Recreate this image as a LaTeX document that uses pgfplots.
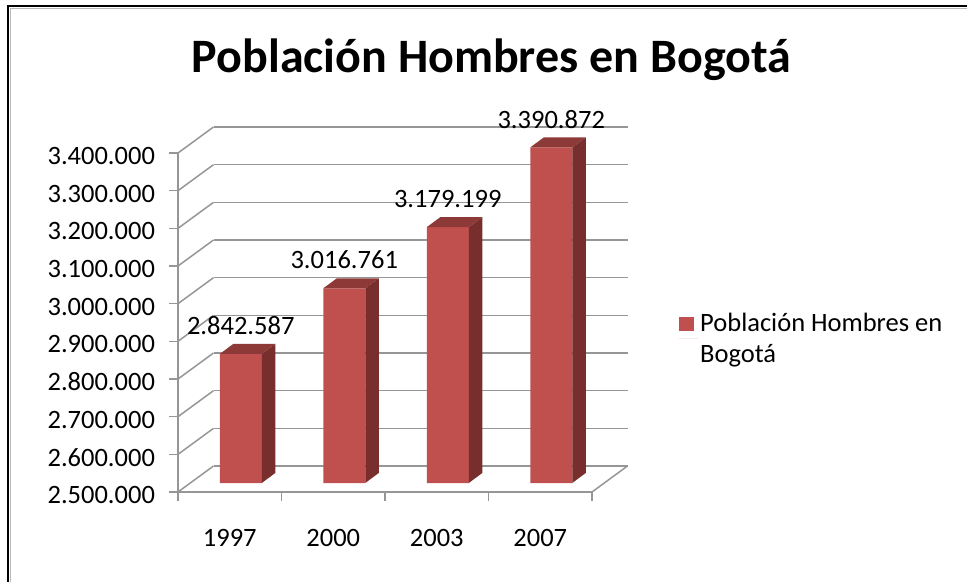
\documentclass[border=0pt]{standalone}
\usepackage{pgfplots}
\pgfplotsset{compat=1.18}
\usepackage{pgfplotstable}
\usepackage{fontspec}
\setmainfont{Carlito}
\definecolor{barfront}{RGB}{192,80,77}
\definecolor{bartop}{RGB}{140,57,55}
\definecolor{barside}{RGB}{120,46,44}
\definecolor{gridc}{RGB}{150,150,150}

\pgfplotstableread{
x y label
0 2842587 2.842.587
1 3016761 3.016.761
2 3179199 3.179.199
3 3390872 3.390.872
}\datatable

\newcommand\lbl{\fontsize{26.5}{31}\selectfont}

\begin{document}
\begin{tikzpicture}
\useasboundingbox (0,0) rectangle (967pt,582pt);
% outer frame (top and left edges)
\draw[gray!55, line width=1.2pt] (10.8pt,0) -- (10.8pt,573.2pt) -- (967pt,573.2pt);
\draw[black, line width=2.2pt] (8.2pt,0) -- (8.2pt,575.8pt) -- (967pt,575.8pt);

% back wall with horizontal grid lines
\begin{axis}[
  at={(213.5pt,116pt)}, anchor=south west,
  width=414pt, height=339pt, scale only axis,
  xmin=-0.5, xmax=3.5, ymin=2500000, ymax=3400000,
  scaled y ticks=false,
  xtick=\empty,
  ytick={2500000,2600000,2700000,2800000,2900000,3000000,3100000,3200000,3300000,3400000},
  yticklabels={},
  ymajorgrids, grid style={gridc, line width=1.5pt},
  axis line style={draw=none}, major tick length=0pt,
]
\end{axis}

% front axis: ticks, labels, side wall and floor
\begin{axis}[
  at={(178pt,90pt)}, anchor=south west,
  width=414pt, height=339pt, scale only axis, clip=false,
  xmin=-0.5, xmax=3.5, ymin=2500000, ymax=3400000,
  scaled y ticks=false,
  axis x line*=bottom, axis y line*=left,
  axis line style={gridc, line width=1.5pt},
  tick style={gridc, line width=1.5pt},
  tick align=outside, major tick length=8.5pt,
  xtick={-0.5,0.5,1.5,2.5,3.5}, xticklabels={,,,,},
  extra x ticks={0,1,2,3},
  extra x tick labels={1997,2000,2003,2007},
  extra x tick style={major tick length=0pt, xticklabel style={yshift=-34pt}},
  ytick={2500000,2600000,2700000,2800000,2900000,3000000,3100000,3200000,3300000,3400000},
  yticklabels={2.500.000,2.600.000,2.700.000,2.800.000,2.900.000,3.000.000,3.100.000,3.200.000,3.300.000,3.400.000},
  yticklabel style={xshift=-11pt, yshift=-3pt},
  ticklabel style={font=\lbl, text=black},
  title={Población Hombres en Bogotá},
  title style={at={(0.7572,1.2212)}, anchor=base, font=\fontsize{48}{58}\selectfont\bfseries},
]
\pgfplotsinvokeforeach{2500000,2600000,2700000,2800000,2900000,3000000,3100000,3200000,3300000,3400000}{
  \draw[gridc, line width=1.5pt] (axis cs:-0.5,#1) -- ++(35.5pt,26pt);
}
\draw[gridc, line width=1.5pt] (axis cs:3.5,2500000) -- ++(35.5pt,26pt);
\end{axis}

% bars (placed at their depth inside the box)
\begin{axis}[
  at={(189pt,99pt)}, anchor=south west,
  width=414pt, height=339pt, scale only axis, clip=false,
  xmin=-0.5, xmax=3.5, ymin=2500000, ymax=3400000,
  hide axis,
  legend style={at={(1.1836,0.4248)}, anchor=west, draw=none, fill=none,
    inner sep=0pt, font=\lbl, cells={align=left}},
  legend image code/.code={\path (0pt,0pt) -- (19pt,0pt); \fill[barfront] (0pt,8pt) rectangle (14.5pt,21.5pt);},
]
\addplot[ybar, bar width=42pt, fill=barfront, draw=none,
  nodes near coords, point meta=explicit symbolic,
  every node near coord/.append style={anchor=south, yshift=19pt, inner sep=0pt, font=\lbl, text=black}]
  table[x=x, y=y, meta=label] {\datatable};
\addlegendentry{Población Hombres en\\Bogotá}
\pgfplotsinvokeforeach{0,1,2,3}{
  \pgfplotstablegetelem{#1}{y}\of\datatable
  \edef\barv{\pgfplotsretval}
  \edef\tmp{\noexpand\fill[barside] ([xshift=21pt]axis cs:#1,2500000) -- ([xshift=21pt]axis cs:#1,\barv) -- ([xshift=34.5pt,yshift=10pt]axis cs:#1,\barv) -- ([xshift=34.5pt,yshift=10pt]axis cs:#1,2500000) -- cycle;
  \noexpand\fill[bartop] ([xshift=-21pt]axis cs:#1,\barv) -- ([xshift=21pt]axis cs:#1,\barv) -- ([xshift=34.5pt,yshift=10pt]axis cs:#1,\barv) -- ([xshift=-7.5pt,yshift=10pt]axis cs:#1,\barv) -- cycle;}
  \tmp
}
\end{axis}
\end{tikzpicture}
\end{document}
